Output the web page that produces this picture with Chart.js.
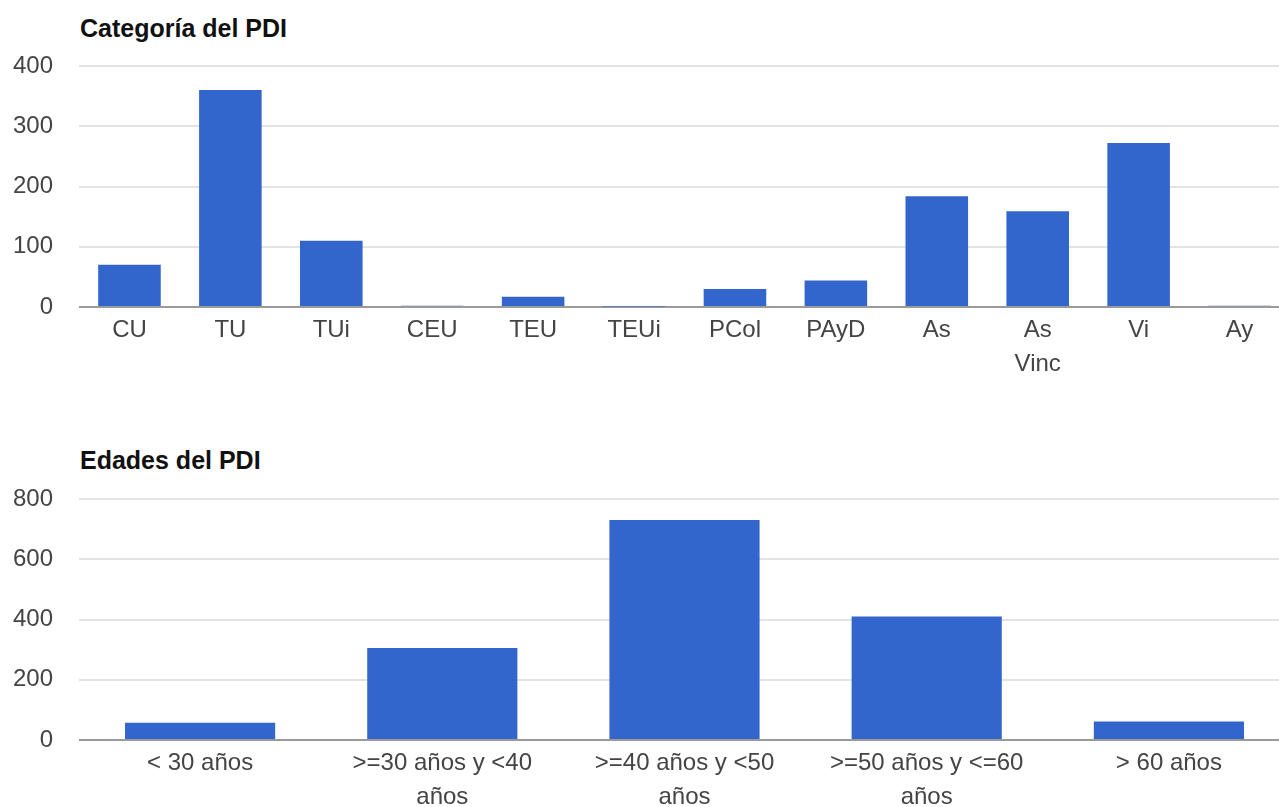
<!DOCTYPE html>
<html>
<head>
<meta charset="utf-8">
<script src="https://cdn.jsdelivr.net/npm/chart.js@4.4.0/dist/chart.umd.min.js"></script>
<style>
  html, body { margin: 0; padding: 0; background: #fff; overflow: hidden; width: 1279px; height: 807px; }
  .box { position: absolute; left: 0; width: 1300px; }
  .title { position: absolute; left: 80px; font-family: "Liberation Sans", Arial, sans-serif; font-weight: bold; font-size: 25px; color: #111; white-space: nowrap; line-height: 30px; }
</style>
</head>
<body>
<div class="title" style="top:13px;">Categoría del PDI</div>
<div class="box" style="top:0px;height:420px;"><canvas id="c1"></canvas></div>
<div class="title" style="top:445px;">Edades del PDI</div>
<div class="box" style="top:400px;height:420px;"><canvas id="c2"></canvas></div>
<script>
// ---- data ----
const categoryLabels = ['CU', 'TU', 'TUi', 'CEU', 'TEU', 'TEUi', 'PCol', 'PAyD', 'As', ['As', 'Vinc'], 'Vi', 'Ay'];
const categoryValues = [70, 360, 110, 2, 17, 1, 30, 44, 184, 159, 272, 2];
const categoryTicks = [0, 100, 200, 300, 400];

const ageLabels = ['< 30 años', ['>=30 años y <40', 'años'], ['>=40 años y <50', 'años'], ['>=50 años y <=60', 'años'], '> 60 años'];
const ageValues = [57, 305, 730, 410, 61];
const ageTicks = [0, 200, 400, 600, 800];

// ---- styling ----
const BAR = '#3366cc';
const GRID = '#e3e3e3';
const BASE = '#9a9a9a';
const FONT = '"Liberation Sans", Arial, sans-serif';

function makeChart(id, labels, values, ticks, padTop, xHeight) {
  const maxV = ticks[ticks.length - 1];
  const step = ticks[1] - ticks[0];
  return new Chart(document.getElementById(id), {
    type: 'bar',
    data: {
      labels: labels,
      datasets: [{
        data: values,
        backgroundColor: BAR,
        borderWidth: 0,
        barPercentage: 0.62,
        categoryPercentage: 1.0
      }]
    },
    options: {
      responsive: true,
      maintainAspectRatio: false,
      animation: false,
      layout: { padding: { top: padTop, left: 0, right: 10, bottom: 0 } },
      plugins: { legend: { display: false }, tooltip: { enabled: false }, title: { display: false } },
      scales: {
        x: {
          grid: { display: false, drawTicks: false },
          border: { display: false },
          ticks: {
            autoSkip: false, maxRotation: 0, minRotation: 0,
            padding: 6.5,
            color: '#444',
            font: { family: FONT, size: 24, lineHeight: '34px' }
          },
          afterFit: function (s) { s.height = xHeight; }
        },
        y: {
          min: 0, max: maxV,
          grid: {
            drawTicks: false,
            lineWidth: 2,
            color: function (c) { return c.tick && c.tick.value === 0 ? BASE : GRID; }
          },
          border: { display: false },
          ticks: {
            stepSize: step,
            padding: 26,
            color: '#444',
            font: { family: FONT, size: 24 }
          },
          afterFit: function (s) { s.width = 79; }
        }
      }
    }
  });
}

makeChart('c1', categoryLabels, categoryValues, categoryTicks, 66, 113);
makeChart('c2', ageLabels, ageValues, ageTicks, 99, 80);
</script>
</body>
</html>
